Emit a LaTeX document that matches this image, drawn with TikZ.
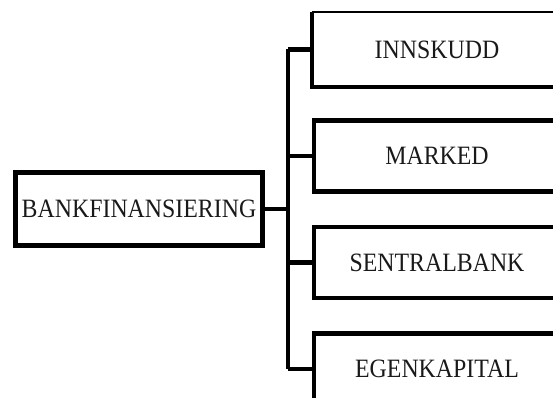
\documentclass[tikz,border=0pt]{standalone}
\usepackage{fontspec}
\setmainfont{Liberation Serif}
\newcommand{\narrowtxt}[1]{\scalebox{0.9}[1]{#1}}
\begin{document}
\begin{tikzpicture}[x=1pt,y=-1pt,
  lbl/.style={font=\fontsize{26.5}{30}\selectfont, inner sep=0pt, text=black!90},
  leftbox/.style={lbl, draw, line width=5pt, minimum width=247pt, minimum height=73pt},
  rightbox/.style={lbl, draw, line width=4.5pt, minimum width=246pt, minimum height=71pt},
  conn/.style={line width=4.5pt}]
\useasboundingbox (0,0) rectangle (553,398);
\clip (0,0) rectangle (553,398);
\node[leftbox] (bank) at (139,209) {\narrowtxt{BANKFINANSIERING}};
\node[rightbox, draw=none] (inn) at (437,49.5) {\narrowtxt{INNSKUDD}};
\draw[line width=2pt] (inn.north west) -- (inn.north east);
\draw[line width=4.5pt] (inn.north east) -- (inn.south east) -- (inn.south west) -- (inn.north west);
\node[rightbox] (mark) at (437,156) {\narrowtxt{MARKED}};
\node[rightbox] (sent) at (437,262.5) {\narrowtxt{SENTRALBANK}};
\node[rightbox] (egen) at (437,369) {\narrowtxt{EGENKAPITAL}};
\coordinate (top) at (288,49.5);
\coordinate (bot) at (288,369);
\draw[conn] (top) -- (bot);
\draw[conn] (bank.east) -- (bank.east -| top);
\draw[conn] (top) -- (inn.west);
\draw[conn] (mark.west -| top) -- (mark.west);
\draw[conn] (sent.west -| top) -- (sent.west);
\draw[conn] (bot) -- (egen.west);
\end{tikzpicture}
\end{document}
